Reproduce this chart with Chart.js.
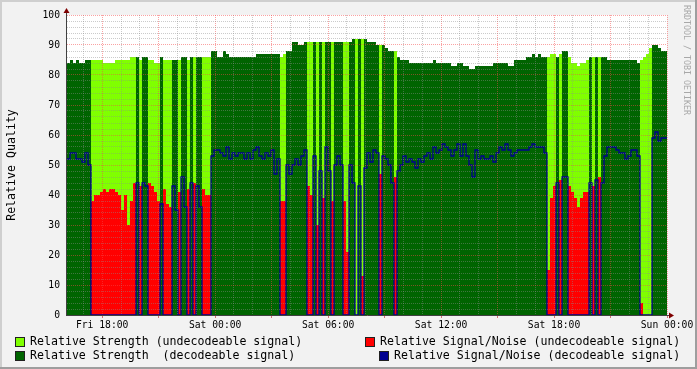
<!DOCTYPE html>
<html>
<head>
<meta charset="utf-8">
<script src="https://cdn.jsdelivr.net/npm/chart.js@4.4.1/dist/chart.umd.min.js"></script>
<style>
  html, body { margin: 0; padding: 0; background: #f2f2f2; }
</style>
</head>
<body>
<canvas id="chart" width="697" height="369"></canvas>
<script>
// one sample every ~9.6 min, hours counted from Fri 18:00
const startHour = -1.87;
const endHour = 30;

// 1 = decodeable signal, 0 = undecodeable
const decodeable = [
  1,1,1,1,1,1,1,1,0,0, 0,0,0,0,0,0,0,0,0,0, 0,0,0,1,0,1,1,0,0,0, 0,1,0,0,0,1,1,0,1,1,
  0,1,0,1,1,0,0,0,1,1, 1,1,1,1,1,1,1,1,1,1, 1,1,1,1,1,1,1,1,1,1, 1,0,0,1,1,1,1,1,1,1,
  0,0,1,0,1,0,1,1,0,1, 1,1,0,0,1,1,0,1,0,1, 1,1,1,1,0,1,1,1,1,0, 1,1,1,1,1,1,1,1,1,1,
  1,1,1,1,1,1,1,1,1,1, 1,1,1,1,1,1,1,1,1,1, 1,1,1,1,1,1,1,1,1,1, 1,1,1,1,1,1,1,1,1,1,
  0,0,0,1,0,1,1,0,0,0, 0,0,0,0,1,0,1,0,1,1, 1,1,1,1,1,1,1,1,1,1, 1,0,0,0,0,1,1,1,1,1
];

const strength = [
  84,85,84,85,84,84,85,85,85,85, 85,85,84,84,84,84,85,85,85,85,
  85,86,86,86,85,86,86,85,85,84, 84,86,85,85,85,85,85,85,86,86,
  85,86,86,86,86,86,86,86,88,88, 86,86,88,87,86,86,86,86,86,86,
  86,86,86,87,87,87,87,87,87,87, 87,86,87,88,88,91,91,90,90,91,
  91,91,91,91,91,91,91,91,91,91, 91,91,91,91,91,92,92,92,92,92,
  91,91,91,90,90,90,89,88,88,88, 86,85,85,85,84,84,84,84,84,84,
  84,84,85,84,84,84,84,84,83,83, 84,84,83,83,82,82,83,83,83,83,
  83,83,84,84,84,84,84,83,83,85, 85,85,85,86,86,87,86,87,86,86,
  86,87,87,86,87,88,88,86,84,84, 83,84,84,85,86,86,86,86,86,86,
  85,85,85,85,85,85,85,85,85,85, 84,85,86,87,89,90,90,89,88,88
];

const snr = [
  52,54,54,52,52,51,54,50,38,40, 40,41,42,41,42,42,41,40,35,40,
  30,38,44,44,43,44,43,44,43,41, 38,37,42,37,36,43,35,41,46,36,
  42,44,44,43,36,42,40,40,53,55, 55,54,53,56,52,54,53,54,54,52,
  54,52,55,56,53,52,54,53,55,47, 52,38,38,50,47,50,52,50,53,55,
  43,40,53,30,48,39,56,48,38,50, 53,50,38,21,50,44,0,43,13,49,
  54,51,55,54,47,53,52,50,44,46, 48,50,53,51,52,51,49,52,51,53,
  54,52,56,54,55,57,56,55,53,55, 57,53,57,53,50,46,55,52,53,52,
  52,53,51,54,56,55,57,55,53,54, 55,55,55,55,56,57,56,56,56,54,
  15,39,43,44,45,46,46,43,41,39, 36,39,41,41,44,43,45,46,44,53,
  56,56,56,55,54,54,52,53,55,55, 53,4,0,0,0,59,61,58,59,59
];

const tickHours = [0, 6, 12, 18, 24, 30];
const tickLabels = ['Fri 18:00', 'Sat 00:00', 'Sat 06:00', 'Sat 12:00', 'Sat 18:00', 'Sun 00:00'];

const seriesLabels = [
  'Relative Strength (undecodeable signal)',
  'Relative Strength  (decodeable signal)',
  'Relative Signal/Noise (undecodeable signal)',
  'Relative Signal/Noise (decodeable signal)'
];
const seriesColors = ['#80ff00', '#006400', '#ff0000', '#000090'];

const mono = 'DejaVu Sans Mono';
const gridMinor = 'rgba(140,140,140,0.45)';
const gridMajor = 'rgba(245,70,70,0.5)';

/********* data -> points *************/

const stepHours = (endHour - startHour) / decodeable.length;

const pick = (values, want) => {
  const pts = values.map((v, i) => ({
    x: startHour + i * stepHours,
    y: decodeable[i] === want ? v : 0
  }));
  // close the last step
  pts.push({ x: endHour, y: pts[pts.length - 1].y });
  return pts;
};

const area = (k, data, order) => ({
  label: seriesLabels[k],
  data: data,
  order: order,
  stepped: true,
  fill: 'origin',
  backgroundColor: seriesColors[k],
  borderColor: 'rgba(0,0,0,0)',
  borderWidth: 0,
  pointRadius: 0
});

/********* rrd look *************/

const rrdLook = {
  id: 'rrdLook',
  beforeDraw(chart) {
    const { ctx, chartArea: a, width, height } = chart;
    ctx.save();
    ctx.fillStyle = '#f2f2f2';
    ctx.fillRect(0, 0, width, height);
    ctx.fillStyle = '#cfcfcf';
    ctx.fillRect(0, 0, width, 2);
    ctx.fillRect(0, 0, 2, height);
    ctx.fillStyle = '#9e9e9e';
    ctx.fillRect(0, height - 2, width, 2);
    ctx.fillRect(width - 2, 0, 2, height);
    ctx.fillStyle = '#ffffff';
    ctx.fillRect(a.left, a.top, a.right - a.left, a.bottom - a.top);
    ctx.restore();
  },
  afterDraw(chart) {
    const { ctx, chartArea: a } = chart;
    ctx.save();

    // axes + arrows
    ctx.strokeStyle = '#404040';
    ctx.lineWidth = 1;
    ctx.beginPath();
    ctx.moveTo(a.left - 0.5, a.bottom + 0.5);
    ctx.lineTo(a.left - 0.5, a.top - 2);
    ctx.moveTo(a.left - 1, a.bottom + 0.5);
    ctx.lineTo(a.right + 2, a.bottom + 0.5);
    ctx.stroke();
    ctx.fillStyle = '#7f0000';
    ctx.beginPath();
    ctx.moveTo(a.left - 0.5, a.top - 7);
    ctx.lineTo(a.left - 3.5, a.top - 2);
    ctx.lineTo(a.left + 2.5, a.top - 2);
    ctx.fill();
    ctx.beginPath();
    ctx.moveTo(a.right + 7, a.bottom + 0.5);
    ctx.lineTo(a.right + 2, a.bottom - 2.5);
    ctx.lineTo(a.right + 2, a.bottom + 3.5);
    ctx.fill();

    // legend, two rows of two
    const rows = [
      { k: 0, box: 15, text: 30, y: 337 },
      { k: 2, box: 365, text: 380, y: 337 },
      { k: 1, box: 15, text: 30, y: 351 },
      { k: 3, box: 379, text: 394, y: 351 }
    ];
    ctx.font = '11.6px "' + mono + '"';
    ctx.textBaseline = 'alphabetic';
    rows.forEach(r => {
      ctx.fillStyle = seriesColors[r.k];
      ctx.fillRect(r.box, r.y, 9, 9);
      ctx.strokeStyle = '#202020';
      ctx.strokeRect(r.box + 0.5, r.y + 0.5, 9, 9);
      ctx.fillStyle = '#000';
      ctx.fillText(seriesLabels[r.k], r.text, r.y + 8);
    });

    // watermark
    ctx.translate(684, 5);
    ctx.rotate(Math.PI / 2);
    ctx.font = '8.3px "' + mono + '"';
    ctx.fillStyle = '#a8a8a8';
    ctx.textBaseline = 'alphabetic';
    ctx.fillText('RRDTOOL / TOBI OETIKER', 0, 0);
    ctx.restore();
  }
};

const ctx = document.getElementById('chart').getContext('2d');

const myChart = new Chart(ctx, {
  type: 'line',
  data: {
    datasets: [
      area(0, pick(strength, 0), 3),
      area(1, pick(strength, 1), 4),
      area(2, pick(snr, 0), 2),
      {
        label: seriesLabels[3],
        data: pick(snr, 1),
        order: 1,
        stepped: true,
        fill: false,
        borderColor: seriesColors[3],
        borderWidth: 1.3,
        pointRadius: 0
      }
    ]
  },
  options: {
    responsive: false,
    animation: false,
    devicePixelRatio: 1,
    layout: { padding: { left: 0, top: 15, right: 30, bottom: 0 } },
    plugins: { legend: { display: false }, tooltip: { enabled: false } },
    scales: {
      x: {
        type: 'linear',
        min: startHour,
        max: endHour,
        afterFit: (s) => { s.height = 54; },
        ticks: {
          stepSize: 1,
          includeBounds: false,
          autoSkip: false,
          maxRotation: 0,
          padding: 2,
          color: '#000',
          font: { family: mono, size: 9.7 },
          callback: (v) => {
            const k = tickHours.indexOf(v);
            return k >= 0 ? tickLabels[k] : '';
          }
        },
        grid: {
          z: 1,
          lineWidth: 1,
          color: (c) => (c.tick && c.tick.value % 3 === 0 ? gridMajor : gridMinor),
          tickLength: 3,
          tickColor: (c) => (c.tick && c.tick.value % 3 === 0 ? 'rgba(200,60,60,0.7)' : 'rgba(0,0,0,0)')
        },
        border: { display: false, dash: [1, 1] }
      },
      y: {
        min: 0,
        max: 100,
        afterFit: (s) => { s.width = 67; },
        ticks: {
          stepSize: 2,
          autoSkip: false,
          padding: 7,
          color: '#000',
          font: { family: mono, size: 9.7 },
          callback: (v) => (v % 10 === 0 ? String(v) : '')
        },
        grid: {
          z: 1,
          lineWidth: 1,
          drawTicks: false,
          color: (c) => (c.tick && c.tick.value % 10 === 0 ? gridMajor : gridMinor)
        },
        border: { display: false, dash: [1, 1] },
        title: {
          display: true,
          text: 'Relative Quality',
          color: '#000',
          font: { family: mono, size: 11.6 },
          padding: { top: 5, bottom: 0 }
        }
      }
    }
  },
  plugins: [rrdLook]
});
</script>
</body>
</html>
